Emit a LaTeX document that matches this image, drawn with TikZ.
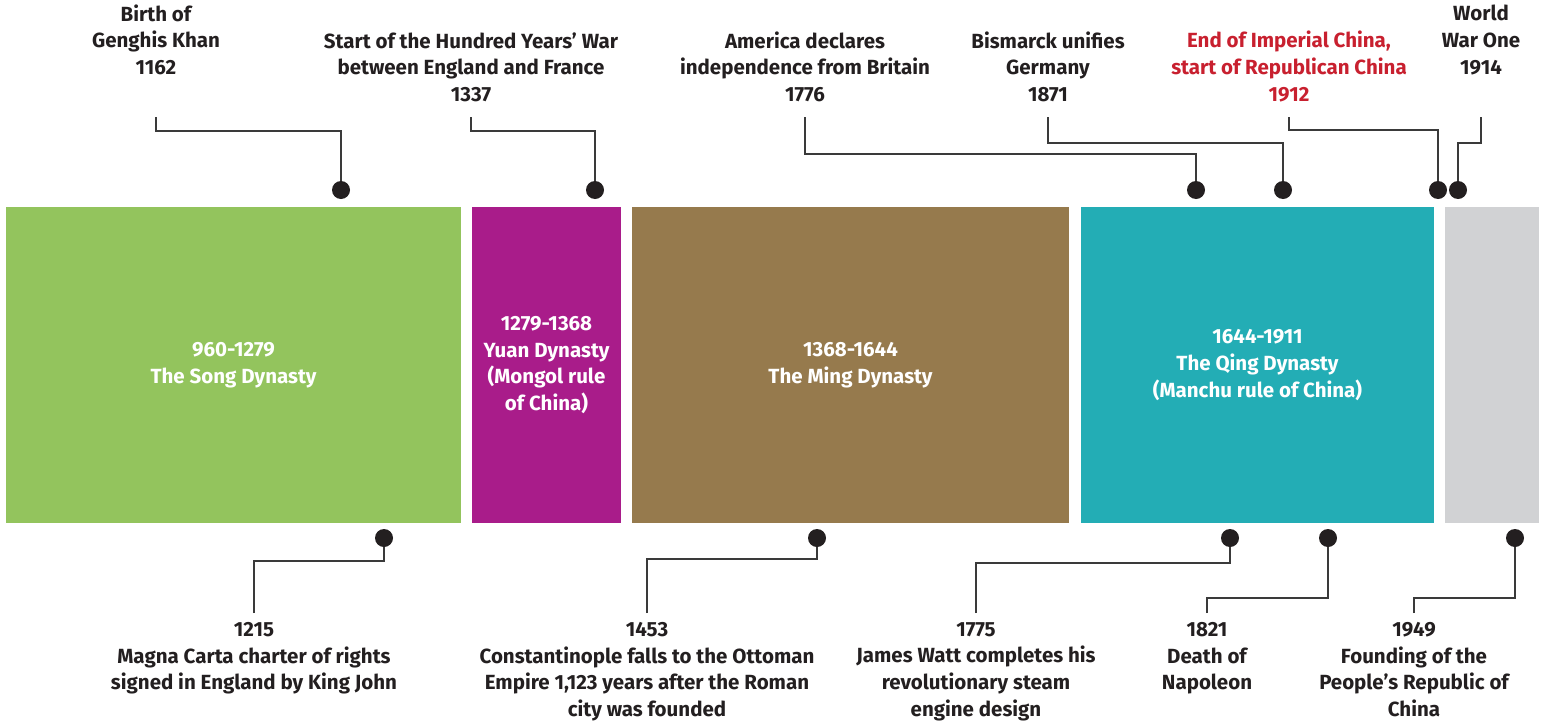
\documentclass[tikz,border=0pt]{standalone}
\usepackage{fontspec}
\setmainfont{Fira Sans}
\usetikzlibrary{positioning}

\definecolor{songgreen}{HTML}{93C45D}
\definecolor{yuanpurple}{HTML}{A91C8A}
\definecolor{mingbrown}{HTML}{967A4D}
\definecolor{qingteal}{HTML}{23ADB5}
\definecolor{modgrey}{HTML}{D1D2D4}
\definecolor{inkdark}{HTML}{231F20}
\definecolor{linkgrey}{HTML}{3A3A3A}
\definecolor{alertred}{HTML}{C8202F}

\begin{document}
\begin{tikzpicture}[x=1pt, y=-1pt,
    % Node styles
    period/.style={rectangle, minimum height=316pt, inner sep=0pt,
                   text=white, align=center,
                   font=\bfseries\fontsize{20.5}{26.7}\selectfont},
    event/.style={rectangle, inner sep=0pt, text=inkdark, align=center,
                  font=\bfseries\fontsize{20.5}{26.7}\selectfont},
    pin/.style={circle, fill=inkdark, minimum size=18pt, inner sep=0pt},
    link/.style={draw=linkgrey, line width=1.2pt}
]
\useasboundingbox (0,0) rectangle (1542,723);

% 1. Dynasty blocks
\node[period, fill=songgreen, minimum width=455pt] (song) at (233.5,365) {
    960-1279\\
    The Song Dynasty
};
\node[period, fill=yuanpurple, minimum width=149pt] (yuan) at (546.5,365) {
    1279-1368\\
    Yuan Dynasty\\
    (Mongol rule\\
    of China)
};
\node[period, fill=mingbrown, minimum width=437pt] (ming) at (850.5,365) {
    1368-1644\\
    The Ming Dynasty
};
\node[period, fill=qingteal, minimum width=353pt] (qing) at (1257.5,365) {
    1644-1911\\
    The Qing Dynasty\\
    (Manchu rule of China)
};
\node[period, fill=modgrey, minimum width=94pt] (modern) at (1492,365) {};

% 2. Pins above the blocks
\node[pin] (khanpin) at (341,190) {};
\node[pin] (warpin) at (595,190) {};
\node[pin] (usapin) at (1196,190) {};
\node[pin] (germanypin) at (1283,190) {};
\node[pin] (republicpin) at (1438,190) {};
\node[pin] (wwonepin) at (1458,190) {};

% 3. Pins below the blocks
\node[pin] (magnapin) at (384,538) {};
\node[pin] (constpin) at (817,538) {};
\node[pin] (wattpin) at (1230,538) {};
\node[pin] (napoleonpin) at (1328,538) {};
\node[pin] (prcpin) at (1515,538) {};

% 4. Free ends of the connectors
\coordinate (khanend) at (156,117);
\coordinate (warend) at (471,117);
\coordinate (usaend) at (805,117);
\coordinate (germanyend) at (1048,117);
\coordinate (republicend) at (1289,117);
\coordinate (wwoneend) at (1481,117);
\coordinate (magnaend) at (254,613);
\coordinate (constend) at (647,613);
\coordinate (wattend) at (976,613);
\coordinate (napoleonend) at (1207,613);
\coordinate (prcend) at (1414,613);

% 5. Events above
\node[event, above=42pt of khanend] (khan) {
    Birth of\\
    Genghis Khan\\
    1162
};
\node[event, above=15pt of warend] (war) {
    Start of the Hundred Years’ War\\
    between England and France\\
    1337
};
\node[event, above=15pt of usaend] (usa) {
    America declares\\
    independence from Britain\\
    1776
};
\node[event, above=15pt of germanyend] (germany) {
    Bismarck unifies\\
    Germany\\
    1871
};
\node[event, text=alertred, above=15pt of republicend] (republic) {
    End of Imperial China,\\
    start of Republican China\\
    1912
};
\node[event, above=42pt of wwoneend] (wwone) {
    World\\
    War One\\
    1914
};

% 6. Events below
\node[event, below=9pt of magnaend] (magna) {
    1215\\
    Magna Carta charter of rights\\
    signed in England by King John
};
\node[event, below=9pt of constend] (const) {
    1453\\
    Constantinople falls to the Ottoman\\
    Empire 1,123 years after the Roman\\
    city was founded
};
\node[event, below=9pt of wattend] (watt) {
    1775\\
    James Watt completes his\\
    revolutionary steam\\
    engine design
};
\node[event, below=9pt of napoleonend] (napoleon) {
    1821\\
    Death of\\
    Napoleon
};
\node[event, below=9pt of prcend] (prc) {
    1949\\
    Founding of the\\
    People’s Republic of\\
    China
};

% Connectors above
\draw[link] (khanend) -- ++(0,14) -| (khanpin);
\draw[link] (warend) -- ++(0,14) -| (warpin);
\draw[link] (usaend) -- ++(0,37) -| (usapin);
\draw[link] (germanyend) -- ++(0,26) -| (germanypin);
\draw[link] (republicend) -- ++(0,13) -| (republicpin);
\draw[link] (wwoneend) -- ++(0,26) -| (wwonepin);

% Connectors below
\draw[link] (magnaend) -- ++(0,-52) -| (magnapin);
\draw[link] (constend) -- ++(0,-54) -| (constpin);
\draw[link] (wattend) -- ++(0,-50) -| (wattpin);
\draw[link] (napoleonend) -- ++(0,-15) -| (napoleonpin);
\draw[link] (prcend) -- ++(0,-15) -| (prcpin);

\end{tikzpicture}
\end{document}
